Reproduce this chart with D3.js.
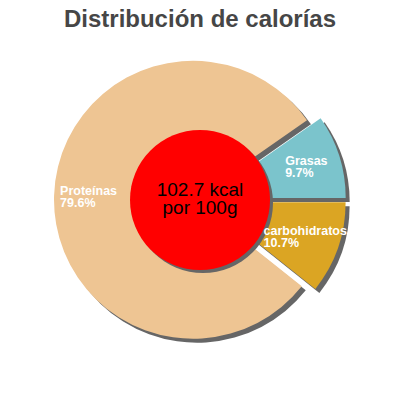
<!DOCTYPE html>
<html>
<head>
<meta charset="utf-8">
<script src="https://cdn.jsdelivr.net/npm/d3@7"></script>
<style>
  body { margin: 0; background: #fff; }
  svg { display: block; }
</style>
</head>
<body>
<div id="chart"></div>
<script>
// data
var categories = ["Grasas", "carbohidratos", "Proteínas"];
var percents = [9.7, 10.7, 79.6];
var colors = ["#7bc4cc", "#dba523", "#eec593"];
var energy = ["102.7 kcal", "por 100g"];
var title = "Distribución de calorías";

var svgWidth = 400, svgHeight = 400;
var cx = 200, cy = 200;
var radius = 139, holeRadius = 70, explode = 7;

var svg = d3.select("#chart")
  .append("svg")
  .attr("width", svgWidth)
  .attr("height", svgHeight);

svg.append("text")
  .attr("x", svgWidth / 2)
  .attr("y", 27)
  .attr("text-anchor", "middle")
  .style("font-family", "Liberation Sans, Arial, sans-serif")
  .style("font-weight", "bold")
  .style("font-size", "24px")
  .style("fill", "#464646")
  .text(title);

var table = categories.map(function(c, i) {
  return {name: c, value: percents[i], color: colors[i]};
});

// first slice ends at 3 o'clock
var start = Math.PI / 2 - percents[0] / 100 * 2 * Math.PI;
var pie = d3.pie()
  .sort(null)
  .value(d => d.value)
  .startAngle(start)
  .endAngle(start + 2 * Math.PI);

var arcs = pie(table);
var arc = d3.arc().innerRadius(0).outerRadius(radius);
var labelArc = d3.arc().innerRadius(holeRadius).outerRadius(radius);

function shift(d) {
  var a = (d.startAngle + d.endAngle) / 2;
  return [Math.sin(a) * explode, -Math.cos(a) * explode];
}

var g = svg.append("g").attr("transform", `translate(${cx},${cy})`);

// shadows
g.selectAll(".shadow")
  .data(arcs)
  .enter()
  .append("path")
  .attr("class", "shadow")
  .attr("d", arc)
  .attr("fill", "#666")
  .attr("transform", d => { var s = shift(d); return `translate(${s[0] + 4},${s[1] + 4})`; });

g.selectAll(".slice")
  .data(arcs)
  .enter()
  .append("path")
  .attr("class", "slice")
  .attr("d", arc)
  .attr("fill", d => d.data.color)
  .attr("transform", d => { var s = shift(d); return `translate(${s[0]},${s[1]})`; });

// center circle
g.append("circle")
  .attr("cx", 3).attr("cy", 3)
  .attr("r", holeRadius)
  .attr("fill", "#666");
g.append("circle")
  .attr("r", holeRadius)
  .attr("fill", "#ff0000");

energy.forEach(function(l, i) {
  g.append("text")
    .attr("x", 0)
    .attr("y", -4 + i * 18)
    .attr("text-anchor", "middle")
    .style("font-family", "Liberation Sans, Arial, sans-serif")
    .style("font-size", "19px")
    .style("fill", "#000")
    .text(l);
});

// labels, block centered on centroid, lines left aligned
arcs.forEach(function(d) {
  var c = labelArc.centroid(d);
  var s = shift(d);
  var lines = [d.data.name, d.data.value + "%"];
  var texts = lines.map(function(l, i) {
    return g.append("text")
      .attr("y", c[1] + s[1] - 2 + i * 12)
      .style("font-family", "Liberation Sans, Arial, sans-serif")
      .style("font-weight", "bold")
      .style("font-size", "12.5px")
      .style("fill", "#fff")
      .text(l);
  });
  var w = d3.max(texts, t => t.node().getComputedTextLength());
  texts.forEach(t => t.attr("x", c[0] + s[0] - w / 2));
});
</script>
</body>
</html>
